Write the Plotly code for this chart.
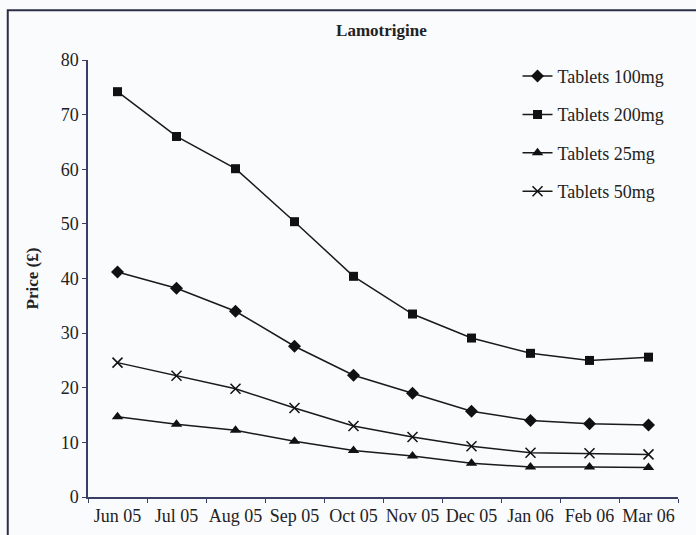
import plotly.graph_objects as go

MONTHS = ["Jun 05", "Jul 05", "Aug 05", "Sep 05", "Oct 05",
          "Nov 05", "Dec 05", "Jan 06", "Feb 06", "Mar 06"]
TAB_100 = [41.2, 38.2, 34.0, 27.6, 22.3, 19.0, 15.7, 14.0, 13.4, 13.2]
TAB_200 = [74.2, 66.0, 60.1, 50.4, 40.4, 33.5, 29.1, 26.3, 25.0, 25.6]
TAB_25 = [14.7, 13.3, 12.2, 10.2, 8.5, 7.5, 6.2, 5.5, 5.5, 5.4]
TAB_50 = [24.6, 22.2, 19.8, 16.3, 13.0, 11.0, 9.3, 8.1, 8.0, 7.8]

FONT = "Liberation Serif"
AXIS = "#3a3f66"

series = [
    ("Tablets 100mg", TAB_100, dict(symbol="diamond", size=10)),
    ("Tablets 200mg", TAB_200, dict(symbol="square", size=9)),
    ("Tablets 25mg", TAB_25, dict(symbol="triangle-up", size=10)),
    ("Tablets 50mg", TAB_50, dict(symbol="x-thin", size=10,
                                  line=dict(width=1.5, color="#111111"))),
]

fig = go.Figure()
for name, values, marker in series:
    fig.add_scatter(
        x=MONTHS,
        y=values,
        name=name,
        legendgroup=name,
        mode="lines+markers",
        line=dict(color="#1a1a1a", width=1.5),
        marker=dict(color="#111111", **marker),
    )

fig.update_layout(
    width=696,
    height=535,
    paper_bgcolor="#fafbfd",
    plot_bgcolor="#fafbfd",
    font=dict(family=FONT, size=18, color="#222222"),
    title=dict(text="<b>Lamotrigine</b>", x=0.548, xanchor="center",
               y=0.944, yanchor="middle", font=dict(size=17)),
    margin=dict(l=88, r=18, t=60, b=38),
    showlegend=True,
    legend=dict(x=0.728, y=1.005, xanchor="left", yanchor="top",
                bgcolor="rgba(0,0,0,0)", font=dict(size=18),
                tracegroupgap=12, itemwidth=30),
    xaxis=dict(
        range=[-0.5, 9.5], showgrid=False, showline=True, linecolor=AXIS,
        linewidth=1.5, ticks="outside", tickson="boundaries", ticklen=4,
        tickcolor=AXIS, zeroline=False, automargin=False, tickangle=0,
        tickfont=dict(size=18), ticklabelstandoff=2,
    ),
    yaxis=dict(
        range=[0, 80], dtick=10, showgrid=False, showline=True,
        linecolor=AXIS, linewidth=1.5, ticks="outside", ticklen=4,
        tickcolor=AXIS, zeroline=False, automargin=False,
        title=dict(text="<b>Price (£)</b>", standoff=18, font=dict(size=17)),
    ),
    shapes=[dict(type="rect", xref="paper", yref="paper",
                 x0=-0.136, x1=1.04, y0=-0.09, y1=1.114,
                 line=dict(color="#2a2f45", width=2))],
)

# the page body has a default 8px margin; drop it so the figure sits at 0,0
fig.write_html("out.html", config={"displayModeBar": False},
               post_script="document.body.style.margin='0px';")
